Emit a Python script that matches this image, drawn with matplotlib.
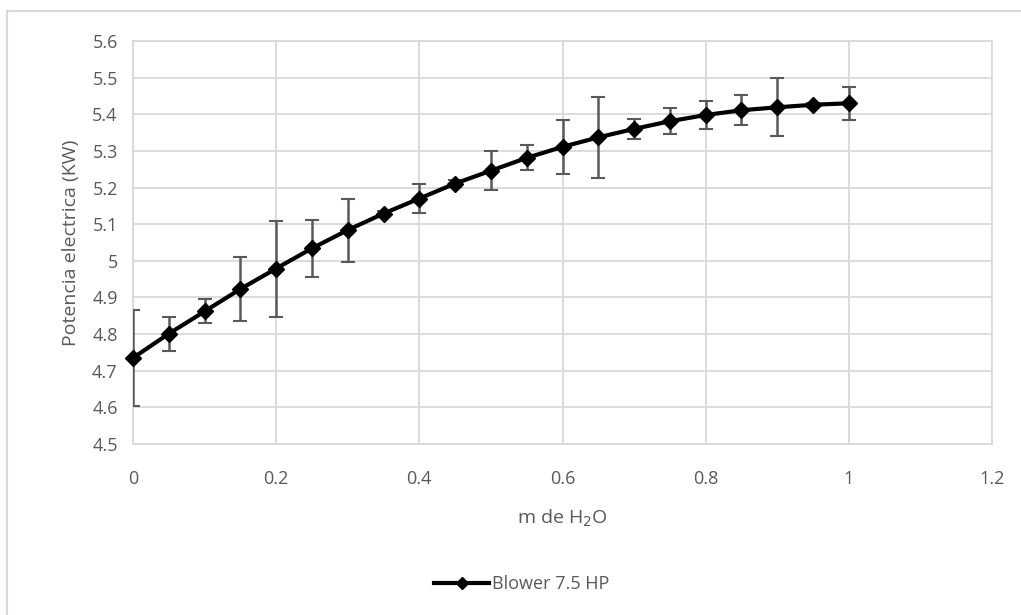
"""
plot.py
-------
Potencia electrica del blower 7.5 HP vs masa de agua, con barras de error.
"""

import matplotlib
matplotlib.use("Agg")
import matplotlib.pyplot as plt
from matplotlib.lines import Line2D

# Datos
m_h2o    = [0.00, 0.05, 0.10, 0.15, 0.20, 0.25, 0.30, 0.35, 0.40, 0.45, 0.50,
            0.55, 0.60, 0.65, 0.70, 0.75, 0.80, 0.85, 0.90, 0.95, 1.00]
potencia = [4.735, 4.801, 4.862, 4.923, 4.979, 5.034, 5.084, 5.129, 5.170, 5.211, 5.246,
            5.281, 5.311, 5.337, 5.360, 5.381, 5.398, 5.411, 5.419, 5.426, 5.430]
error    = [0.132, 0.047, 0.033, 0.088, 0.131, 0.078, 0.086, 0.008, 0.040, 0.010, 0.054,
            0.034, 0.073, 0.110, 0.027, 0.035, 0.037, 0.041, 0.079, 0.005, 0.045]

serie_label = "Blower 7.5 HP"
x_ticks = [0, 0.2, 0.4, 0.6, 0.8, 1.0, 1.2]
x_tick_labels = ["0", "0.2", "0.4", "0.6", "0.8", "1", "1.2"]
y_ticks = [4.5, 4.6, 4.7, 4.8, 4.9, 5.0, 5.1, 5.2, 5.3, 5.4, 5.5, 5.6]
y_tick_labels = ["4.5", "4.6", "4.7", "4.8", "4.9", "5", "5.1", "5.2", "5.3", "5.4", "5.5", "5.6"]

TEXT = "#595959"
GRID = "#d9d9d9"

plt.rcParams["font.family"] = ["Open Sans", "DejaVu Sans"]

fig = plt.figure(figsize=(10.21, 6.15), dpi=100)
ax = fig.add_axes([133 / 1021, 1 - 444 / 615, (992 - 133) / 1021, (444 - 41) / 615])

# borde del area del grafico (solo arriba e izquierda visibles)
fig.add_artist(Line2D([7 / 1021, 7 / 1021], [0, 1 - 11 / 615],
                      transform=fig.transFigure, color=GRID, lw=1.5))
fig.add_artist(Line2D([7 / 1021, 1], [1 - 11 / 615, 1 - 11 / 615],
                      transform=fig.transFigure, color=GRID, lw=1.5))

# barras de error por encima del eje (la de x=0 queda recortada a la mitad)
ax.errorbar(m_h2o, potencia, yerr=error, fmt="none", ecolor="#595959",
            elinewidth=1.8, capsize=5, capthick=1.5, zorder=2.6)
ax.plot(m_h2o, potencia, color="black", lw=3, marker="D", markersize=8,
        zorder=3, label=serie_label, clip_on=False)

ax.set_xlim(0, 1.2)
ax.set_ylim(4.5, 5.6)
ax.set_xticks(x_ticks)
ax.set_xticklabels(x_tick_labels)
ax.set_yticks(y_ticks)
ax.set_yticklabels(y_tick_labels)
ax.tick_params(length=0, labelsize=13, labelcolor=TEXT, pad=11)
ax.tick_params(axis="x", pad=19)

ax.grid(True, color=GRID, lw=1.3)
ax.set_axisbelow(True)
for side in ["top", "right", "bottom", "left"]:
    ax.spines[side].set_color(GRID)
    ax.spines[side].set_linewidth(1.3)

ax.set_xlabel("m de H$_2$O", fontsize=14, color=TEXT, labelpad=14)
ax.set_ylabel("Potencia electrica (KW)", fontsize=14, color=TEXT, labelpad=9)

fig.legend(loc="center", bbox_to_anchor=(522 / 1021, 1 - 584 / 615), frameon=False,
           fontsize=13, labelcolor=TEXT, handlelength=3.0, handletextpad=0.2,
           markerscale=0.8)

fig.savefig("out.png", dpi=100)
